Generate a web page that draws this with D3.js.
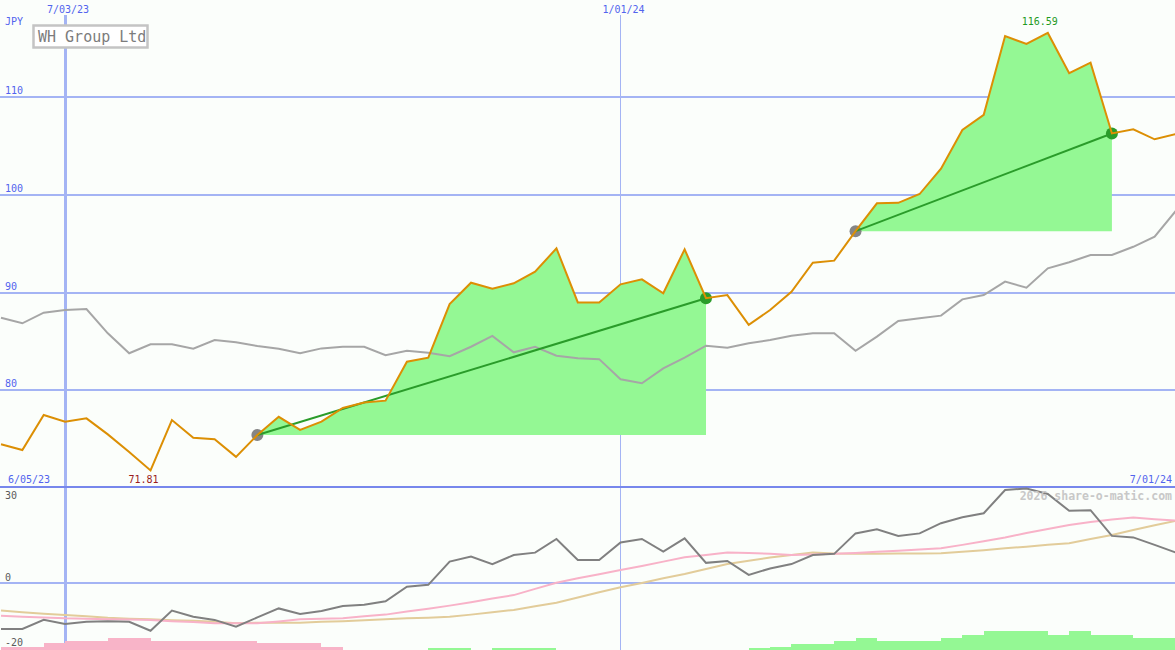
<!DOCTYPE html>
<html>
<head>
<meta charset="utf-8">
<script src="https://cdn.jsdelivr.net/npm/d3@7"></script>
<style>
  html, body { margin: 0; padding: 0; background: #fbfefb; }
  svg { display: block; }
  text { font-family: "DejaVu Sans Mono", monospace; }
</style>
</head>
<body>
<svg id="chart" width="1175" height="650"></svg>
<script>
// ---------- DATA ----------
const dates = [
  "2023-06-12","2023-06-19","2023-06-26","2023-07-03","2023-07-10","2023-07-17","2023-07-24","2023-07-31",
  "2023-08-07","2023-08-14","2023-08-21","2023-08-28","2023-09-04","2023-09-11","2023-09-18","2023-09-25",
  "2023-10-02","2023-10-09","2023-10-16","2023-10-23","2023-10-30","2023-11-06","2023-11-13","2023-11-20",
  "2023-11-27","2023-12-04","2023-12-11","2023-12-18","2023-12-25","2024-01-01","2024-01-08","2024-01-15",
  "2024-01-22","2024-01-29","2024-02-05","2024-02-12","2024-02-19","2024-02-26","2024-03-04","2024-03-11",
  "2024-03-18","2024-03-25","2024-04-01","2024-04-08","2024-04-15","2024-04-22","2024-04-29","2024-05-06",
  "2024-05-13","2024-05-20","2024-05-27","2024-06-03","2024-06-10","2024-06-17","2024-06-24","2024-07-01"
];
const closePrices = [
  74.48, 73.9, 77.48, 76.8, 77.14, 75.5, 73.7, 71.81,
  76.97, 75.16, 75.0, 73.2, 75.43, 77.3, 75.95, 76.8,
  78.2, 78.75, 78.95, 82.94, 83.35, 88.84, 91.02, 90.4,
  90.96, 92.15, 94.54, 89.0, 89.0, 90.86, 91.37, 89.94,
  94.44, 89.43, 89.76, 86.7, 88.23, 90.1, 93.07, 93.28,
  96.3, 99.15, 99.2, 100.1, 102.7, 106.65, 108.2, 116.27,
  115.46, 116.59, 112.46, 113.54, 106.3, 106.72, 105.7, 106.24
];
const relativeIndex = [
  87.44, 86.87, 87.95, 88.23, 88.33, 85.84, 83.8, 84.72,
  84.72, 84.27, 85.16, 84.92, 84.54, 84.27, 83.8, 84.3,
  84.47, 84.47, 83.6, 84.06, 83.86, 83.5, 84.47, 85.57,
  83.9, 84.47, 83.55, 83.28, 83.2, 81.14, 80.73, 82.26,
  83.35, 84.58, 84.37, 84.82, 85.16, 85.6, 85.84, 85.84,
  84.06, 85.5, 87.1, 87.38, 87.65, 89.32, 89.76, 91.13,
  90.51, 92.5, 93.11, 93.86, 93.86, 94.7, 95.73, 98.4
];
const momentum = [
  -14.8, -14.8, -11.9, -13.2, -12.5, -12.3, -12.5, -15.4,
  -8.9, -10.9, -11.9, -14.1, -11.1, -8.2, -10.0, -9.0,
  -7.4, -7.0, -5.9, -1.2, -0.6, 6.9, 8.5, 6.1,
  9.0, 9.8, 14.2, 7.4, 7.4, 13.1, 14.2, 10.1,
  14.4, 6.5, 7.1, 2.6, 4.7, 6.1, 9.0, 9.4,
  16.0, 17.3, 15.2, 16.0, 19.3, 21.2, 22.5, 30.0,
  30.5, 28.7, 23.3, 23.5, 15.2, 14.7, 12.3, 9.8
];
const maFast = [
  -10.6, -10.9, -11.1, -11.4, -11.5, -11.7, -11.8, -11.9,
  -12.3, -12.6, -13.0, -13.0, -13.0, -12.4, -11.7, -11.5,
  -11.4, -10.7, -10.2, -9.2, -8.3, -7.3, -6.2, -5.0,
  -3.9, -1.9, 0.1, 1.5, 2.8, 4.2, 5.5, 6.9,
  8.3, 9.0, 9.8, 9.7, 9.4, 9.0, 9.2, 9.4,
  9.7, 10.1, 10.4, 10.8, 11.2, 12.3, 13.5, 14.7,
  16.1, 17.4, 18.7, 19.7, 20.5, 21.1, 20.6, 20.1
];
const maSlow = [
  -8.9, -9.4, -9.9, -10.3, -10.7, -11.2, -11.5, -11.7,
  -12.0, -12.2, -12.5, -13.0, -12.8, -12.8, -12.8, -12.5,
  -12.3, -12.0, -11.7, -11.4, -11.2, -10.9, -10.2, -9.4,
  -8.7, -7.5, -6.4, -4.7, -3.0, -1.4, 0.0, 1.5,
  2.9, 4.5, 6.1, 7.2, 8.2, 9.0, 9.8, 9.5,
  9.4, 9.4, 9.5, 9.5, 9.6, 10.1, 10.6, 11.2,
  11.7, 12.3, 12.8, 14.2, 15.5, 17.1, 18.6, 20.1
];
const histogram = [
  -3.3, -3.3, -6.7, -9, -9, -12.3, -12.3, -9,
  -9, -9, -9, -9, -6.7, -6.7, -6.7, -3.3,
  0, 0, 0, 0, 2.3, 2.3, 0, 2.3,
  2.3, 2.3, 0, 0, 0, 0, 0, 0,
  0, 0, 0, 2.3, 3.3, 6, 6, 9,
  12.3, 9, 9, 9, 12.3, 15, 19, 19,
  19, 15, 19, 15, 15, 12.3, 12.3, 12.3
];
const trendSegments = [["2023-09-04", "2024-01-29"], ["2024-03-18", "2024-06-10"]];
const gridDates = ["2023-07-03", "2024-01-01"];
const gridDateLabels = ["7/03/23", "1/01/24"];
const rangeLabels = ["6/05/23", "7/01/24"];
const priceTicks = [80, 90, 100, 110];
const lowerTicks = [-20, 0, 30];
const titleText = "WH Group Ltd";
const currencyText = "JPY";
const watermarkText = "2026 share-o-matic.com";

// ---------- SETUP ----------
const W = 1175, H = 650;
const parse = d3.timeParse("%Y-%m-%d");
const dts = dates.map(parse);
const rows = dts.map((d, i) => ({
  date: d, close: closePrices[i], rel: relativeIndex[i], mom: momentum[i],
  fast: maFast[i], slow: maSlow[i], hist: histogram[i]
}));

const x = d3.scaleTime().domain([dts[0], dts[dts.length - 1]]).range([1, 1176]);
const yMain = d3.scaleLinear().domain([80, 110]).range([390.4, 97.3]);
const yLow = d3.scaleLinear().domain([-20, 30]).range([645, 490]);
const yHist = d3.scaleLinear().domain([0, 20]).range([650, 630]);

const svg = d3.select("#chart");
svg.append("rect").attr("width", W).attr("height", H).attr("fill", "#fbfefb");

const gridColor = "#a4b4f4";
const labelBlue = "#5264ee";

// horizontal grid, main panel
svg.selectAll(".hgrid").data(priceTicks).join("line")
  .attr("x1", 0).attr("x2", W)
  .attr("y1", d => Math.round(yMain(d))).attr("y2", d => Math.round(yMain(d)))
  .attr("stroke", gridColor).attr("stroke-width", 2).attr("shape-rendering", "crispEdges");

// lower panel zero line
svg.append("line").attr("x1", 0).attr("x2", W)
  .attr("y1", yLow(0)).attr("y2", yLow(0))
  .attr("stroke", gridColor).attr("stroke-width", 2).attr("shape-rendering", "crispEdges");

// vertical grid
svg.selectAll(".vgrid").data(gridDates).join("line")
  .attr("x1", d => x(parse(d))).attr("x2", d => x(parse(d)))
  .attr("y1", 8 + 7).attr("y2", H)
  .attr("stroke", gridColor)
  .attr("stroke-width", (d, i) => i === 0 ? 3 : 1.5)
  .attr("shape-rendering", "crispEdges");

// separator
svg.append("line").attr("x1", 0).attr("x2", W).attr("y1", 487).attr("y2", 487)
  .attr("stroke", "#7787ec").attr("stroke-width", 2.5).attr("shape-rendering", "crispEdges");

// ---------- LOWER PANEL ----------
const xStep = (i) => (i + 1 < dts.length ? x(dts[i + 1]) : x(dts[i]) + (x(dts[i]) - x(dts[i - 1])));
svg.selectAll(".hist").data(rows.filter(r => r.hist !== 0)).join("rect")
  .attr("x", d => x(d.date))
  .attr("width", d => xStep(rows.indexOf(d)) - x(d.date))
  .attr("y", d => yHist(Math.abs(d.hist)))
  .attr("height", d => yHist(0) - yHist(Math.abs(d.hist)))
  .attr("fill", d => d.hist < 0 ? "#f8b4c8" : "#94f894")
  .attr("shape-rendering", "crispEdges");

const lowLine = (key) => d3.line().x(d => x(d.date)).y(d => yLow(d[key]));
svg.append("path").datum(rows).attr("d", lowLine("slow"))
  .attr("fill", "none").attr("stroke", "#e2cc9a").attr("stroke-width", 2);
svg.append("path").datum(rows).attr("d", lowLine("fast"))
  .attr("fill", "none").attr("stroke", "#f8b2c8").attr("stroke-width", 2);
svg.append("path").datum(rows).attr("d", lowLine("mom"))
  .attr("fill", "none").attr("stroke", "#808080").attr("stroke-width", 2);

svg.selectAll(".lowtick").data(lowerTicks).join("text")
  .attr("x", 5)
  .attr("y", d => Math.max(yLow(d) + (d < 0 ? 1 : -2), 499))
  .attr("font-size", 10).attr("fill", "#5a5a5a")
  .text(d => d);

svg.append("text").attr("x", 1172).attr("y", 500).attr("text-anchor", "end")
  .attr("font-size", 11.5).attr("font-weight", "bold").attr("fill", "#c8c8c8")
  .text(watermarkText);

// ---------- MAIN PANEL ----------
// trend fills
const segs = trendSegments.map(([s, e]) => {
  const i0 = dates.indexOf(s), i1 = dates.indexOf(e);
  return { i0, i1, rows: rows.slice(i0, i1 + 1), base: rows[i0].close };
});
segs.forEach(sg => {
  svg.append("path").datum(sg.rows)
    .attr("d", d3.area().x(d => x(d.date)).y0(yMain(sg.base)).y1(d => yMain(d.close)))
    .attr("fill", "#94f894");
});

// comparison line
svg.append("path").datum(rows)
  .attr("d", d3.line().x(d => x(d.date)).y(d => yMain(d.rel)))
  .attr("fill", "none").attr("stroke", "#a6a6a6").attr("stroke-width", 2);

// dots + trend lines
segs.forEach(sg => {
  const a = rows[sg.i0], b = rows[sg.i1];
  svg.append("circle").attr("cx", x(a.date)).attr("cy", yMain(a.close)).attr("r", 6).attr("fill", "#858585");
  svg.append("circle").attr("cx", x(b.date)).attr("cy", yMain(b.close)).attr("r", 6).attr("fill", "#2a9c2a");
  svg.append("line")
    .attr("x1", x(a.date)).attr("y1", yMain(a.close))
    .attr("x2", x(b.date)).attr("y2", yMain(b.close))
    .attr("stroke", "#2a9c2a").attr("stroke-width", 2);
});

// price line
svg.append("path").datum(rows)
  .attr("d", d3.line().x(d => x(d.date)).y(d => yMain(d.close)))
  .attr("fill", "none").attr("stroke", "#dc8f04").attr("stroke-width", 2);

// min / max labels
const minRow = rows.reduce((a, b) => (b.close < a.close ? b : a));
const maxRow = rows.reduce((a, b) => (b.close > a.close ? b : a));
svg.append("text").attr("x", x(minRow.date) - 7).attr("y", 483).attr("text-anchor", "middle")
  .attr("font-size", 10).attr("fill", "#9a1c1c").text(minRow.close.toFixed(2));
svg.append("text").attr("x", x(maxRow.date) - 8).attr("y", 25).attr("text-anchor", "middle")
  .attr("font-size", 10).attr("fill", "#1f9a1f").text(maxRow.close.toFixed(2));

// price tick labels
svg.selectAll(".ptick").data(priceTicks).join("text")
  .attr("x", 5).attr("y", d => Math.round(yMain(d)) - 3)
  .attr("font-size", 10).attr("fill", labelBlue).text(d => d);
svg.append("text").attr("x", 5).attr("y", 25).attr("font-size", 10).attr("fill", labelBlue).text(currencyText);

// top date labels
svg.selectAll(".dlabel").data(gridDates).join("text")
  .attr("x", d => x(parse(d)) + 3).attr("y", 13).attr("text-anchor", "middle")
  .attr("font-size", 10).attr("fill", labelBlue)
  .text((d, i) => gridDateLabels[i]);

// range labels
svg.append("text").attr("x", 8).attr("y", 483).attr("font-size", 10).attr("fill", labelBlue).text(rangeLabels[0]);
svg.append("text").attr("x", 1172).attr("y", 483).attr("text-anchor", "end")
  .attr("font-size", 10).attr("fill", labelBlue).text(rangeLabels[1]);

// title box
svg.append("rect").attr("x", 33.5).attr("y", 25.5).attr("width", 114).attr("height", 22)
  .attr("fill", "#ffffff").attr("stroke", "#c4c4c4").attr("stroke-width", 2.5);
svg.append("text").attr("x", 38).attr("y", 42).attr("font-size", 15).attr("fill", "#7c7c7c").text(titleText);
</script>
</body>
</html>
